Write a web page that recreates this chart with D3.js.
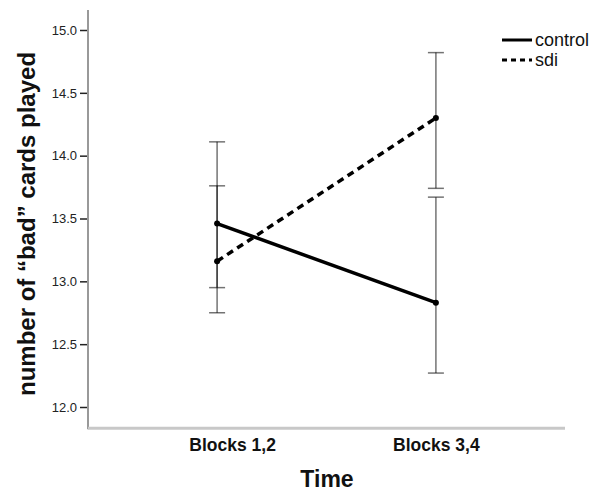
<!DOCTYPE html>
<html>
<head>
<meta charset="utf-8">
<script src="https://cdn.jsdelivr.net/npm/d3@7"></script>
<style>
  body { margin: 0; background: #fff; }
  svg { display: block; font-family: "Liberation Sans", Arial, sans-serif; }
</style>
</head>
<body>
<svg id="chart" width="600" height="497"></svg>
<script>
// data
let times = ['Blocks 1,2', 'Blocks 3,4']
let groups = ['control', 'sdi']
let controlMean = [13.46, 12.83]
let controlLow = [12.95, 12.27]
let controlHigh = [13.76, 13.67]
let sdiMean = [13.16, 14.30]
let sdiLow = [12.75, 13.74]
let sdiHigh = [14.11, 14.82]
let yTicks = [12.0, 12.5, 13.0, 13.5, 14.0, 14.5, 15.0]

let svg = d3.select('#chart')

let x = d3.scalePoint().domain(times).range([88, 565]).padding(0.59)
let y = d3.scaleLinear().domain([12, 15]).range([407, 30])

let series = [
  {name: 'control', mean: controlMean, low: controlLow, high: controlHigh, dash: null},
  {name: 'sdi', mean: sdiMean, low: sdiLow, high: sdiHigh, dash: '7,5'},
]

//axes lines
svg.append('line')
  .attr('x1', 88).attr('x2', 88)
  .attr('y1', y(15.16)).attr('y2', y(11.83) + 1)
  .attr('stroke', '#999').attr('stroke-width', 2)
svg.append('line')
  .attr('x1', 88).attr('x2', 565)
  .attr('y1', y(11.83)).attr('y2', y(11.83))
  .attr('stroke', '#c8c8c8').attr('stroke-width', 3)

// y axis ticks + labels
let yAxis = svg.append('g')
  .attr('transform', 'translate(87,0)')
  .call(d3.axisLeft(y).tickValues(yTicks).tickFormat(d3.format('.1f')).tickSize(7).tickPadding(3))
yAxis.select('.domain').remove()
yAxis.selectAll('.tick line').attr('stroke', '#222').attr('stroke-width', 1.5)
yAxis.selectAll('.tick text')
  .attr('font-family', '"Liberation Sans", Arial, sans-serif')
  .attr('font-size', 13).attr('fill', '#222')

// x axis labels
let xAxis = svg.append('g')
  .attr('transform', `translate(0,${y(11.83)})`)
  .call(d3.axisBottom(x).tickSize(0).tickPadding(10))
xAxis.select('.domain').remove()
xAxis.selectAll('.tick text')
  .attr('font-family', '"Liberation Sans", Arial, sans-serif')
  .attr('font-size', 17.5).attr('font-weight', 'bold').attr('fill', '#111')
  .attr('dy', '0.71em')
  .attr('dx', (d, i) => i == 0 ? 15 : 0)

// titles
svg.append('text').text('Time')
  .attr('x', 327).attr('y', 487)
  .attr('text-anchor', 'middle')
  .attr('font-size', 23).attr('font-weight', 'bold').attr('fill', '#111')

svg.append('text').text('number of \u201cbad\u201d cards played')
  .attr('transform', 'translate(35,224) rotate(-90)')
  .attr('text-anchor', 'middle')
  .attr('font-size', 24).attr('font-weight', 'bold').attr('fill', '#111')

// error bars
let cap = 8
series.forEach(s => {
  let g = svg.append('g').attr('class', 'err-' + s.name)
  times.forEach((t, i) => {
    let cx = x(t)
    g.append('line')
      .attr('x1', cx).attr('x2', cx)
      .attr('y1', y(s.low[i])).attr('y2', y(s.high[i]))
    g.append('line')
      .attr('x1', cx - cap).attr('x2', cx + cap)
      .attr('y1', y(s.low[i])).attr('y2', y(s.low[i]))
    g.append('line')
      .attr('x1', cx - cap).attr('x2', cx + cap)
      .attr('y1', y(s.high[i])).attr('y2', y(s.high[i]))
  })
  g.selectAll('line')
    .attr('stroke', '#000').attr('stroke-opacity', 0.55).attr('stroke-width', 1.5)
})

// mean lines
let line = d3.line().x((d, i) => x(times[i])).y(d => y(d))
series.forEach(s => {
  svg.append('path')
    .datum(s.mean)
    .attr('d', line)
    .attr('fill', 'none')
    .attr('stroke', '#000')
    .attr('stroke-width', 3.5)
    .attr('stroke-dasharray', s.dash)
  svg.selectAll('.pt-' + s.name)
    .data(s.mean)
    .enter()
    .append('circle')
    .attr('class', 'pt-' + s.name)
    .attr('cx', (d, i) => x(times[i]))
    .attr('cy', d => y(d))
    .attr('r', 3)
    .attr('fill', '#000')
})

// legend
let legend = svg.append('g').attr('transform', 'translate(502,40)')
series.forEach((s, i) => {
  legend.append('line')
    .attr('x1', 0).attr('x2', 30)
    .attr('y1', i * 20).attr('y2', i * 20)
    .attr('stroke', '#000').attr('stroke-width', 3)
    .attr('stroke-dasharray', s.dash ? '5,4' : null)
  legend.append('text').text(groups[i])
    .attr('x', 33).attr('y', i * 20 + 6)
    .attr('font-size', 18).attr('fill', '#111')
})
</script>
</body>
</html>
